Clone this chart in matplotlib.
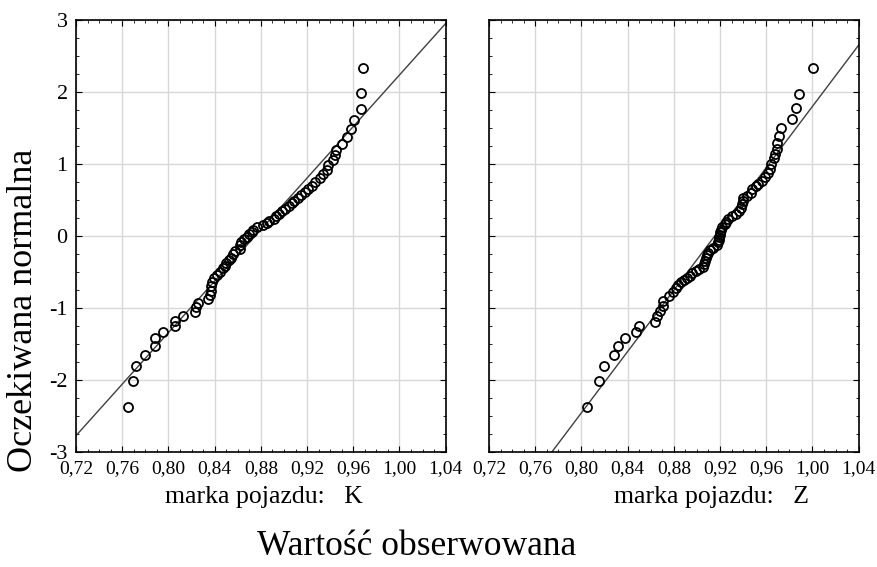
import numpy as np
import matplotlib
matplotlib.use('Agg')
import matplotlib.pyplot as plt
from matplotlib.ticker import MultipleLocator, FuncFormatter

plt.rcParams['font.family'] = ['Liberation Serif', 'DejaVu Serif']
plt.rcParams['axes.unicode_minus'] = False

# observed value / expected normal value, brand K
k_obs = [0.7647, 0.7696, 0.772, 0.7797, 0.788, 0.788, 0.7955, 0.806, 0.806, 0.8128,
         0.8227, 0.8238, 0.8253, 0.834, 0.836, 0.8365, 0.837, 0.838, 0.839, 0.842,
         0.8446, 0.847, 0.849, 0.850, 0.852, 0.854, 0.856, 0.858, 0.8616, 0.862,
         0.863, 0.865, 0.868, 0.870, 0.872, 0.873, 0.877, 0.882, 0.885, 0.887,
         0.891, 0.893, 0.896, 0.898, 0.901, 0.904, 0.907, 0.909, 0.912, 0.915,
         0.918, 0.921, 0.924, 0.927, 0.931, 0.934, 0.9369, 0.9383, 0.9426, 0.944,
         0.9449, 0.950, 0.9546, 0.9576, 0.961, 0.9663, 0.9663, 0.9685]
k_exp = [-2.37, -2.01, -1.81, -1.65, -1.53, -1.42, -1.33, -1.25, -1.18, -1.11,
         -1.05, -0.99, -0.93, -0.88, -0.82, -0.76, -0.70, -0.64, -0.58, -0.54,
         -0.50, -0.45, -0.41, -0.37, -0.33, -0.30, -0.25, -0.21, -0.18, -0.13,
         -0.08, -0.04, -0.01, 0.03, 0.06, 0.09, 0.12, 0.15, 0.18, 0.21,
         0.24, 0.28, 0.31, 0.35, 0.38, 0.42, 0.46, 0.49, 0.53, 0.57,
         0.61, 0.65, 0.70, 0.75, 0.80, 0.86, 0.92, 0.98, 1.05, 1.12,
         1.20, 1.28, 1.38, 1.49, 1.61, 1.77, 1.98, 2.33]

# brand Z
z_obs = [0.805, 0.815, 0.8195, 0.8285, 0.832, 0.8375, 0.8476, 0.8497, 0.864, 0.8653,
         0.8676, 0.8705, 0.871, 0.876, 0.8795, 0.8815, 0.884, 0.886, 0.889, 0.891,
         0.894, 0.896, 0.899, 0.902, 0.905, 0.906, 0.907, 0.908, 0.909, 0.910,
         0.911, 0.914, 0.917, 0.918, 0.919, 0.919, 0.920, 0.920, 0.921, 0.922,
         0.924, 0.925, 0.927, 0.930, 0.9335, 0.936, 0.938, 0.939, 0.9395, 0.940,
         0.943, 0.9465, 0.948, 0.951, 0.953, 0.956, 0.959, 0.9617, 0.963, 0.9645,
         0.9665, 0.968, 0.969, 0.969, 0.971, 0.973, 0.982, 0.9856, 0.988, 1.0001]
z_exp = [-2.37, -2.01, -1.81, -1.65, -1.53, -1.42, -1.33, -1.25, -1.19, -1.11,
         -1.04, -0.97, -0.90, -0.84, -0.78, -0.72, -0.68, -0.64, -0.61, -0.58,
         -0.55, -0.52, -0.49, -0.46, -0.43, -0.39, -0.35, -0.31, -0.27, -0.23,
         -0.19, -0.16, -0.12, -0.09, -0.05, -0.02, 0.02, 0.05, 0.09, 0.13,
         0.17, 0.20, 0.24, 0.28, 0.31, 0.35, 0.39, 0.44, 0.48, 0.53,
         0.56, 0.60, 0.65, 0.69, 0.72, 0.77, 0.82, 0.87, 0.93, 1.00,
         1.08, 1.14, 1.21, 1.29, 1.39, 1.50, 1.62, 1.78, 1.97, 2.33]

# reference lines (mean, std)
k_line = (0.875, 0.0559)
z_line = (0.9154, 0.047)

panels = [('K', k_obs, k_exp, k_line), ('Z', z_obs, z_exp, z_line)]

fig = plt.figure(figsize=(8.77, 5.67), dpi=100)
lefts = [0.0867, 0.5576]
label_x = [0.301, 0.811]

comma = FuncFormatter(lambda v, p: ('%.2f' % v).replace('.', ','))

for i, (name, obs, exp, (mu, sd)) in enumerate(panels):
    ax = fig.add_axes([lefts[i], 0.2028, 0.4215, 0.762])
    xs = np.array([0.72, 1.04])
    ax.plot(xs, (xs - mu) / sd, color='#404040', lw=1.0, zorder=2)
    ax.plot(obs, exp, 'o', mfc='none', mec='black', mew=1.3, ms=6.5, zorder=3)
    ax.set_xlim(0.72, 1.04)
    ax.set_ylim(-3, 3)
    ax.xaxis.set_major_locator(MultipleLocator(0.04))
    ax.xaxis.set_minor_locator(MultipleLocator(0.01))
    ax.yaxis.set_major_locator(MultipleLocator(1))
    ax.yaxis.set_minor_locator(MultipleLocator(0.25))
    ax.xaxis.set_major_formatter(comma)
    ax.grid(True, which='major', color='#d8d8d8', lw=1.0)
    ax.set_axisbelow(True)
    ax.tick_params(which='both', direction='in', top=True, right=True)
    ax.tick_params(which='major', length=4)
    ax.tick_params(which='minor', length=2)
    ax.tick_params(axis='x', labelsize=14, pad=6)
    ax.tick_params(axis='y', labelsize=16, pad=6)
    for s in ax.spines.values():
        s.set_linewidth(1.2)
    if i == 1:
        ax.tick_params(axis='y', labelleft=False)
    fig.text(label_x[i], 0.1235, 'marka pojazdu:   ' + name,
             ha='center', va='center', fontsize=18.5)

fig.text(0.475, 0.036, 'Wartość obserwowana', ha='center', va='center', fontsize=25.5)
fig.text(0.027, 0.453, 'Oczekiwana normalna', rotation=90, ha='center', va='center',
         fontsize=26)

fig.savefig('out.png', dpi=100)
